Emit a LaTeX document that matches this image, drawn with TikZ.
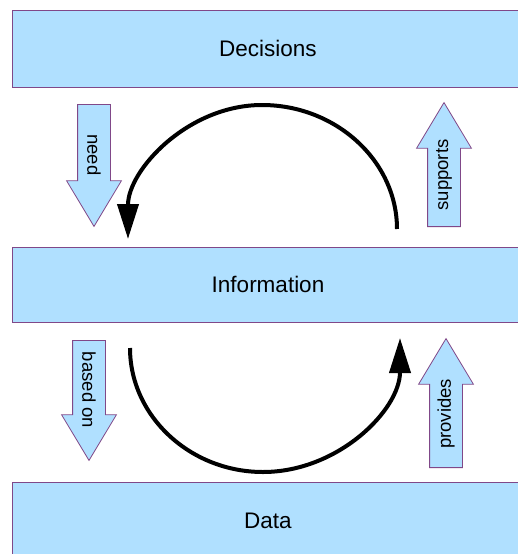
\documentclass[tikz,border=0pt]{standalone}
\usepackage{fontspec}
\setmainfont{Liberation Sans}
\usetikzlibrary{arrows.meta}
\usetikzlibrary{shapes.arrows}

\definecolor{boxfill}{RGB}{176,224,255}
\definecolor{boxline}{RGB}{128,72,136}

\begin{document}
\begin{tikzpicture}[x=1pt,y=-1pt]
    \tikzstyle{layer}=[rectangle,draw=boxline,fill=boxfill,line width=0.8pt,minimum width=512pt,inner sep=0pt,font=\fontsize{22.5}{26}\selectfont]
    \tikzstyle{blockarrow}=[single arrow,draw=boxline,fill=boxfill,line width=0.8pt,inner xsep=0pt,inner ysep=16pt,single arrow head extend=11pt,single arrow tip angle=62,minimum width=0pt,anchor=tail]
    \tikzstyle{label}=[inner sep=0pt,font=\fontsize{18.5}{20}\selectfont]
    \tikzstyle{cycle}=[draw=black,line width=4pt,-{Triangle[length=35pt,width=21pt]}]

    \useasboundingbox (0,0) rectangle (517,554);

    \node[layer,minimum height=77pt] (decisions)   at (268,48.5)  {Decisions};
    \node[layer,minimum height=75pt] (information) at (268,284.5) {Information};
    \node[layer,minimum height=78pt] (data)        at (268,521)   {Data};

    \node[blockarrow,rotate=-90,minimum height=122pt] (needArr)     at (94,104)  {};
    \node[blockarrow,rotate=90, minimum height=124pt] (supportsArr) at (444,227) {};
    \node[blockarrow,rotate=-90,minimum height=120pt] (basedArr)    at (89,340)  {};
    \node[blockarrow,rotate=90, minimum height=129pt] (providesArr) at (446,468) {};

    \node[label,rotate=-90] (need)     at (94,155)  {need};
    \node[label,rotate=90]  (supports) at (444,175) {supports};
    \node[label,rotate=-90] (basedon)  at (89,390)  {based on};
    \node[label,rotate=90]  (provides) at (446,414) {provides};

    \coordinate (upStart)   at (397,229);
    \coordinate (upTop)     at (262,105);
    \coordinate (upEnd)     at (128,239);
    \coordinate (downStart) at (130,348);
    \coordinate (downLow)   at (263,472);
    \coordinate (downEnd)   at (400,338);

    % information -> decisions -> information
    \path[cycle] (upStart) .. controls (397,161) and (336,105) .. (upTop)
        .. controls (188,105) and (128,170) .. (upEnd);

    % data -> information
    \path[cycle] (downStart) .. controls (130,416) and (190,472) .. (downLow)
        .. controls (338,472) and (400,410) .. (downEnd);
\end{tikzpicture}
\end{document}
